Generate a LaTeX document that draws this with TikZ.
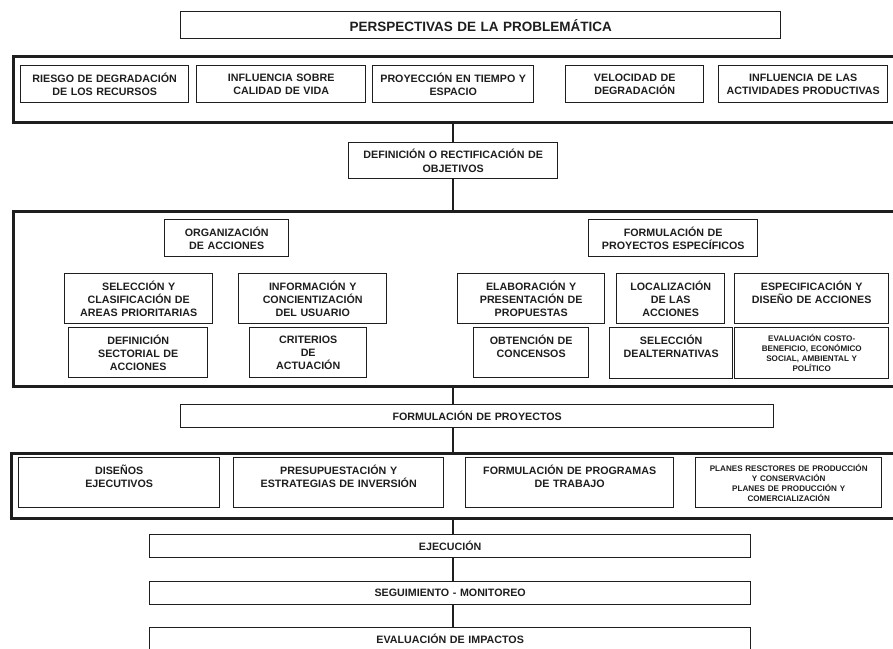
\documentclass[tikz,border=0pt]{standalone}
\usepackage{fontspec}
\setmainfont{Liberation Sans}
\definecolor{ink}{HTML}{1E1E1E}
\tikzset{
  bx/.style={draw=ink, line width=1.4pt, inner sep=0pt, anchor=north west, align=center,
    font=\fontsize{10.7}{13.3}\selectfont\bfseries, text=ink},
  cont/.style={draw=ink, line width=2.7pt, inner sep=0pt, anchor=north west},
  sm/.style={font=\fontsize{8.1}{10}\selectfont\bfseries},
  ttl/.style={font=\fontsize{13.5}{15}\selectfont\bfseries},
  link/.style={draw=ink, line width=1.4pt}
}
\begin{document}
\begin{tikzpicture}[x=1pt,y=-1pt]
\useasboundingbox (0,0) rectangle (893,648);
\clip (0,0) rectangle (893,648);
\fill[white] (0,0) rectangle (893,648);
% title
\node[bx, ttl, minimum width=600pt, minimum height=27pt, text width=596pt] (title) at (180,11) {PERSPECTIVAS DE LA PROBLEMÁTICA};
% container 1
\node[cont, minimum width=884pt, minimum height=66pt] (c1) at (12,55) {};
\node[bx, minimum width=168pt, minimum height=37pt, text width=164pt] (r1a) at (20,65) {RIESGO DE DEGRADACIÓN\\DE LOS RECURSOS};
\node[bx, minimum width=169pt, minimum height=37pt, text width=165pt] (r1b) at (196,65) {INFLUENCIA SOBRE\\CALIDAD DE VIDA};
\node[bx, minimum width=161pt, minimum height=37pt, text width=157pt] (r1c) at (372,65) {PROYECCIÓN EN TIEMPO Y\\ESPACIO};
\node[bx, minimum width=138pt, minimum height=37pt, text width=134pt] (r1d) at (565,65) {VELOCIDAD DE\\DEGRADACIÓN};
\node[bx, minimum width=169pt, minimum height=37pt, text width=165pt] (r1e) at (718,65) {INFLUENCIA DE LAS\\ACTIVIDADES PRODUCTIVAS};
% objectives
\node[bx, minimum width=209pt, minimum height=36pt, text width=205pt] (defin) at (348,142) {DEFINICIÓN O RECTIFICACIÓN DE\\OBJETIVOS};
% container 2
\node[cont, minimum width=884pt, minimum height=175pt] (c2) at (12,210) {};
\node[bx, minimum width=124pt, minimum height=37pt, text width=120pt] (org) at (164,219) {ORGANIZACIÓN\\DE ACCIONES};
\node[bx, minimum width=169pt, minimum height=37pt, text width=165pt] (fpe) at (588,219) {FORMULACIÓN DE\\PROYECTOS ESPECÍFICOS};
\node[bx, minimum width=148pt, minimum height=50pt, text width=144pt] (sel) at (64,273) {SELECCIÓN Y\\CLASIFICACIÓN DE\\AREAS PRIORITARIAS};
\node[bx, minimum width=148pt, minimum height=50pt, text width=144pt] (inf) at (238,273) {INFORMACIÓN Y\\CONCIENTIZACIÓN\\DEL USUARIO};
\node[bx, minimum width=139pt, minimum height=50pt, text width=135pt] (dsa) at (68,327) {DEFINICIÓN\\SECTORIAL DE\\ACCIONES};
\node[bx, minimum width=117pt, minimum height=50pt, text width=113pt] (cri) at (249,327) {CRITERIOS\\DE\\ACTUACIÓN};
\node[bx, minimum width=147pt, minimum height=50pt, text width=143pt] (ela) at (457,273) {ELABORACIÓN Y\\PRESENTACIÓN DE\\PROPUESTAS};
\node[bx, minimum width=108pt, minimum height=50pt, text width=104pt] (loc) at (616,273) {LOCALIZACIÓN\\DE LAS\\ACCIONES};
\node[bx, minimum width=154pt, minimum height=50pt, text width=150pt] (esp) at (734,273) {ESPECIFICACIÓN Y\\DISEÑO DE ACCIONES\\\mbox{}};
\node[bx, minimum width=115pt, minimum height=50pt, text width=111pt] (obt) at (473,327) {OBTENCIÓN DE\\CONCENSOS\\\mbox{}};
\node[bx, minimum width=123pt, minimum height=51pt, text width=119pt] (sal) at (609,327) {SELECCIÓN\\DEALTERNATIVAS\\\mbox{}};
\node[bx, sm, minimum width=154pt, minimum height=51pt, text width=150pt] (eva) at (734,327) {EVALUACIÓN COSTO-\\BENEFICIO, ECONÓMICO\\SOCIAL, AMBIENTAL Y\\POLÍTICO};
% projects
\node[bx, minimum width=593pt, minimum height=23pt, text width=589pt] (fp) at (180,404) {FORMULACIÓN DE PROYECTOS};
% container 3
\node[cont, minimum width=886pt, minimum height=65pt] (c3) at (10,452) {};
\node[bx, minimum width=201pt, minimum height=50pt, text width=197pt] (dis) at (18,457) {DISEÑOS\\EJECUTIVOS\\\mbox{}};
\node[bx, minimum width=210pt, minimum height=50pt, text width=206pt] (pre) at (233,457) {PRESUPUESTACIÓN Y\\ESTRATEGIAS DE INVERSIÓN\\\mbox{}};
\node[bx, minimum width=208pt, minimum height=50pt, text width=204pt] (fpt) at (465,457) {FORMULACIÓN DE PROGRAMAS\\DE TRABAJO\\\mbox{}};
\node[bx, sm, minimum width=186pt, minimum height=50pt, text width=182pt] (pla) at (695,457) {PLANES RESCTORES DE PRODUCCIÓN\\Y CONSERVACIÓN\\PLANES DE PRODUCCIÓN Y\\COMERCIALIZACIÓN};
% bottom chain
\node[bx, minimum width=601pt, minimum height=23pt, text width=597pt] (eje) at (149,534) {EJECUCIÓN};
\node[bx, minimum width=601pt, minimum height=23pt, text width=597pt] (seg) at (149,581) {SEGUIMIENTO - MONITOREO};
\node[bx, minimum width=601pt, minimum height=23pt, text width=597pt] (evi) at (149,627) {EVALUACIÓN DE IMPACTOS};
% spine connectors
\coordinate (sp) at (453,0);
\draw[link] (c1.south -| sp) -- (defin.north -| sp);
\draw[link] (defin.south -| sp) -- (c2.north -| sp);
\draw[link] (c2.south -| sp) -- (fp.north -| sp);
\draw[link] (fp.south -| sp) -- (c3.north -| sp);
\draw[link] (c3.south -| sp) -- (eje.north -| sp);
\draw[link] (eje.south -| sp) -- (seg.north -| sp);
\draw[link] (seg.south -| sp) -- (evi.north -| sp);
\end{tikzpicture}
\end{document}
